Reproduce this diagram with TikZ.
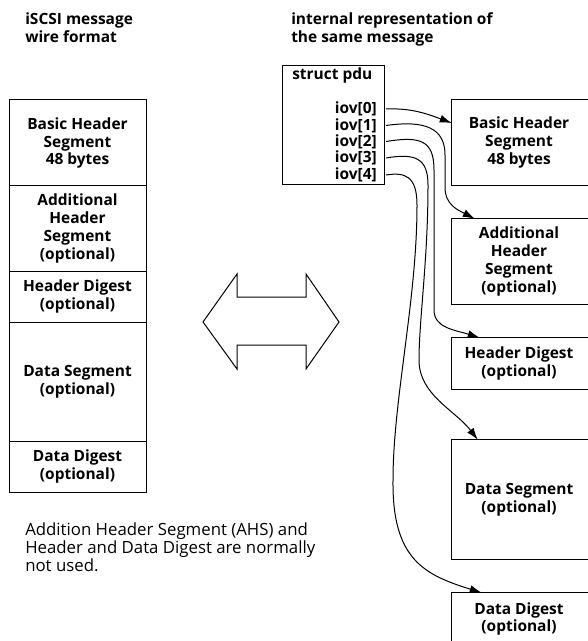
\documentclass[tikz,border=0pt]{standalone}
\usepackage{fontspec}
\setmainfont{Open Sans}
\usetikzlibrary{arrows.meta,calc}
\begin{document}
\begin{tikzpicture}[x=0.75pt,y=-0.75pt,
  lw/.style={line width=0.75pt, draw=black},
  bold/.style={font=\bfseries\fontsize{11.6}{13.3}\selectfont},
  lbox/.style={lw, draw, bold, align=center, inner sep=0pt, minimum width=102.75pt},
  rbox/.style={bold, align=center, inner sep=0pt, minimum width=100.5pt},
  title/.style={font=\bfseries\fontsize{11.6}{13.5}\selectfont, align=left, inner sep=0pt, anchor=north west},
  iovl/.style={bold, inner sep=0pt, anchor=east},
  conn/.style={lw, -{Latex[length=9pt,width=6pt]}}
]
\useasboundingbox (0,0) rectangle (587,641);

% titles
\node[title] (tl) at (25,12) {iSCSI message\\wire format};
\node[title] (tr) at (291,12) {internal representation of\\the same message};

% left stack
\node[lbox, minimum height=64.5pt]  (lbhs) at (77.5,143)   {Basic Header\\Segment\\48 bytes};
\node[lbox, minimum height=63.75pt] (lahs) at (77.5,228.5) {Additional\\Header\\Segment\\(optional)};
\node[lbox, minimum height=38.25pt] (lhd)  at (77.5,296.5) {Header Digest\\(optional)};
\node[lbox, minimum height=89.25pt] (lds)  at (77.5,381.5) {Data Segment\\(optional)};
\node[lbox, minimum height=38.25pt] (ldd)  at (77.5,466.5) {Data Digest\\(optional)};

% note
\node[inner sep=0pt, anchor=north west, align=left, font=\fontsize{12.6}{13.5}\selectfont] (note) at (25,522)
  {Addition Header Segment (AHS) and\\Header and Data Digest are normally\\not used.};

% double arrow
\draw[lw] (203,322) -- (237,274) -- (237,297) -- (306,297) -- (306,274) -- (339,322)
  -- (306,369) -- (306,345) -- (237,345) -- (237,369) -- cycle;

% struct pdu
\node[lw, draw, minimum width=76.5pt, minimum height=89.25pt, inner sep=0pt] (pdu) at (333,125.5) {};
\node[bold, inner sep=0pt, anchor=base west] (pdut) at (292,80) {struct pdu};
\node[iovl] (iov0) at (377,109)   {iov[0]};
\node[iovl] (iov1) at (377,125.5) {iov[1]};
\node[iovl] (iov2) at (377,141.5) {iov[2]};
\node[iovl] (iov3) at (377,158)   {iov[3]};
\node[iovl] (iov4) at (377,175)   {iov[4]};

% right boxes
\node[rbox, minimum height=63.75pt] (rbhs) at (519,142.5) {Basic Header\\Segment\\48 bytes};
\node[rbox, minimum height=63.75pt] (rahs) at (519,261.5) {Additional\\Header\\Segment\\(optional)};
\node[rbox, minimum height=38.25pt] (rhd)  at (519,363.5) {Header Digest\\(optional)};
\node[rbox, minimum height=89.25pt] (rds)  at (519,499.5) {Data Segment\\(optional)};
\node[rbox, minimum height=39pt]    (rdd)  at (519,619)   {Data Digest\\(optional)};
\foreach \n in {rbhs,rahs,rhd,rds,rdd}
  \draw[lw] ([xshift=8pt]\n.north east) -- (\n.north west) -- (\n.south west) -- ([xshift=8pt]\n.south east);

% connectors
\draw[conn] ([xshift=6.75pt]iov0.east) .. controls (410,108) and (425,113) .. ([yshift=14.6pt]rbhs.west);
\draw[conn] ([xshift=6.75pt]iov1.east) .. controls (425,120) and (445,128) .. (445,155) -- (445,187)
  .. controls (445,205) and (458,210) .. ([xshift=17.25pt]rahs.north west);
\draw[conn] ([xshift=6.75pt]iov2.east) .. controls (420,136) and (434,140) .. (434,170) -- (434,310)
  .. controls (434,328) and (455,330) .. ([xshift=21pt]rhd.north west);
\draw[conn] ([xshift=6.75pt]iov3.east) .. controls (415,153) and (428,158) .. (428,185)
  .. controls (428,260) and (419,320) .. (419,360)
  .. controls (419,395) and (455,410) .. ([xshift=19.5pt]rds.north west);
\draw[conn] ([xshift=6.75pt]iov4.east) .. controls (405,172) and (417,176) .. (417,205)
  .. controls (417,300) and (393,400) .. (393,480)
  .. controls (392,560) and (425,575) .. ([xshift=22.5pt]rdd.north west);
\end{tikzpicture}
\end{document}
